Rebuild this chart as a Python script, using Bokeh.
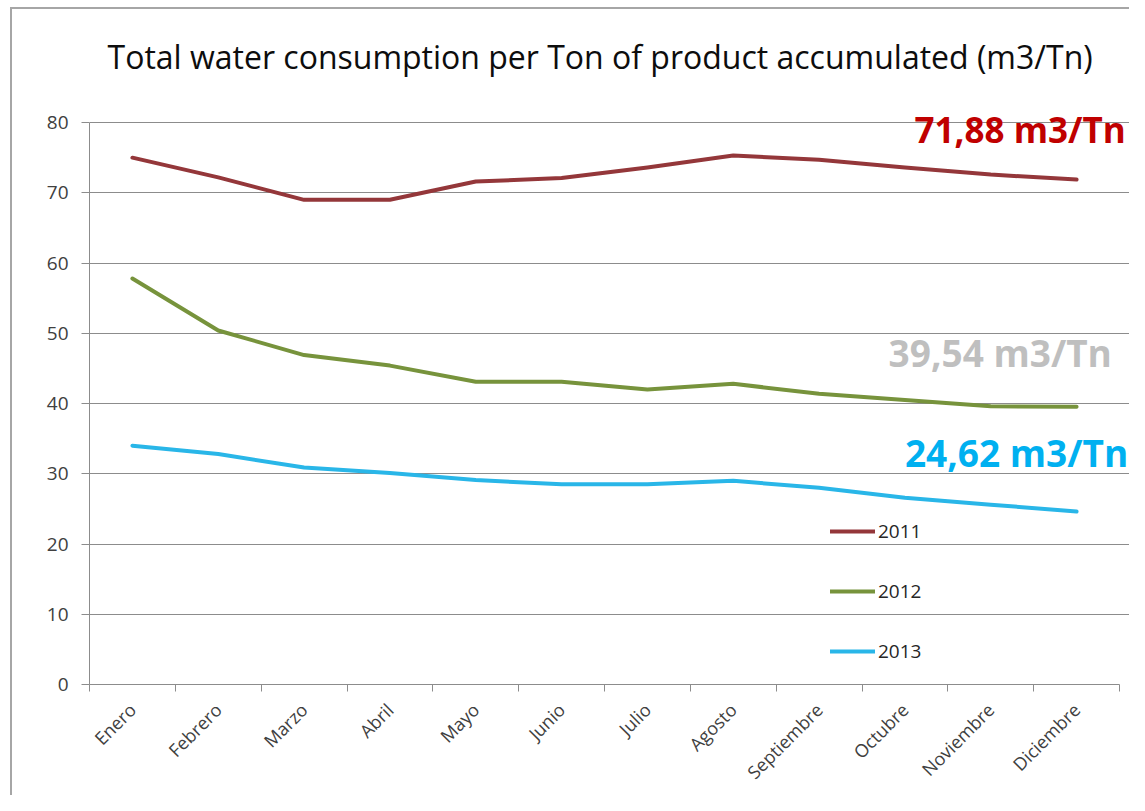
import numpy as np
from bokeh.plotting import figure
from bokeh.models import FixedTicker, Legend, LegendItem, Label, Range1d
from bokeh.embed import file_html
from bokeh.resources import INLINE

months = ["Enero", "Febrero", "Marzo", "Abril", "Mayo", "Junio", "Julio",
          "Agosto", "Septiembre", "Octubre", "Noviembre", "Diciembre"]
years = ["2011", "2012", "2013"]
v2011 = [75.0, 72.2, 69.0, 69.0, 71.6, 72.1, 73.6, 75.3, 74.7, 73.6, 72.6, 71.88]
v2012 = [57.8, 50.4, 46.9, 45.4, 43.1, 43.1, 42.0, 42.8, 41.4, 40.5, 39.6, 39.54]
v2013 = [34.0, 32.8, 30.9, 30.1, 29.1, 28.5, 28.5, 29.0, 28.0, 26.6, 25.6, 24.62]
y_ticks = [0, 10, 20, 30, 40, 50, 60, 70, 80]
title_text = "Total water consumption per Ton of product accumulated (m3/Tn)"

series = [v2011, v2012, v2013]
colors = ["#94373A", "#77933C", "#29B6E8"]
label_colors = ["#C00000", "#BFBFBF", "#00B0F0"]

n = len(months)
centers = [i + 0.5 for i in range(n)]
bounds = list(range(n + 1))

# frame is extended a little to the right and top so the value labels are not clipped
p = figure(width=1129, height=795, output_backend="svg", toolbar_location=None,
           x_range=Range1d(0, n + 0.1165), y_range=Range1d(0, 82),
           min_border_left=89, min_border_right=0, min_border_top=108,
           min_border_bottom=110)
p.outline_line_color = None
p.background_fill_color = "white"
p.border_fill_color = None
p.styles = {
    "background-color": "white",
    "background-image": "linear-gradient(#a6a6a6, #a6a6a6), linear-gradient(#a6a6a6, #a6a6a6)",
    "background-size": "2px 100%, 100% 2px",
    "background-position": "10px 7px, 10px 7px",
    "background-repeat": "no-repeat",
}

p.title.text = title_text
p.title.align = "left"
p.title.offset = 18
p.title.text_font = "Open Sans"
p.title.text_font_size = "32px"
p.title.text_font_style = "normal"
p.title.text_color = "#0d0d0d"
p.title.standoff = 62

renderers = []
for vals, c in zip(series, colors):
    r = p.line(centers, vals, line_width=4, color=c, line_join="round", line_cap="round")
    renderers.append(r)

# axes
p.xgrid.grid_line_color = None
p.ygrid.grid_line_color = "#8c8c8c"
p.ygrid.grid_line_width = 1.2
p.ygrid.ticker = FixedTicker(ticks=y_ticks)

p.yaxis.ticker = FixedTicker(ticks=y_ticks)
p.yaxis.bounds = (0, 80)
p.yaxis.axis_line_color = "#8c8c8c"
p.yaxis.major_tick_line_color = "#8c8c8c"
p.yaxis.major_tick_out = 8
p.yaxis.major_tick_in = 0
p.yaxis.minor_tick_line_color = None
p.yaxis.major_label_text_font = "Open Sans"
p.yaxis.major_label_text_font_size = "19px"
p.yaxis.major_label_text_color = "#404040"
p.yaxis.major_label_standoff = 13

p.xaxis.ticker = FixedTicker(ticks=centers, minor_ticks=bounds)
p.xaxis.bounds = (0, n)
p.xaxis.major_label_overrides = {c: m for c, m in zip(centers, months)}
p.xaxis.axis_line_color = "#8c8c8c"
p.xaxis.major_tick_line_color = None
p.xaxis.minor_tick_line_color = "#8c8c8c"
p.xaxis.minor_tick_out = 7
p.xaxis.minor_tick_in = 0
p.xaxis.major_label_orientation = np.pi / 4
p.xaxis.major_label_text_font = "Open Sans"
p.xaxis.major_label_text_font_size = "18px"
p.xaxis.major_label_text_color = "#404040"
p.xaxis.major_label_standoff = 15

legend = Legend(items=[LegendItem(label=y, renderers=[r]) for y, r in zip(years, renderers)],
                location=(741, 20), orientation="vertical", glyph_width=45, glyph_height=20,
                label_height=20, spacing=34, padding=0, margin=0, border_line_color=None,
                background_fill_alpha=0, label_text_font="Open Sans",
                label_text_font_size="19px", label_text_color="#262626", label_standoff=3)
p.add_layout(legend)

label_pos = [(9.612, 79.0), (9.31, 47.2), (9.50, 33.0)]
label_sizes = ["35px", "37px", "37px"]
for vals, lc, (lx, ly), fs in zip(series, label_colors, label_pos, label_sizes):
    txt = f"{vals[-1]:.2f}".replace(".", ",") + " m3/Tn"
    p.add_layout(Label(x=lx, y=ly, text=txt, text_color=lc, text_font="Open Sans",
                       text_font_style="bold", text_font_size=fs,
                       text_align="left", text_baseline="middle"))

open("out.html", "w").write(file_html(p, INLINE))
